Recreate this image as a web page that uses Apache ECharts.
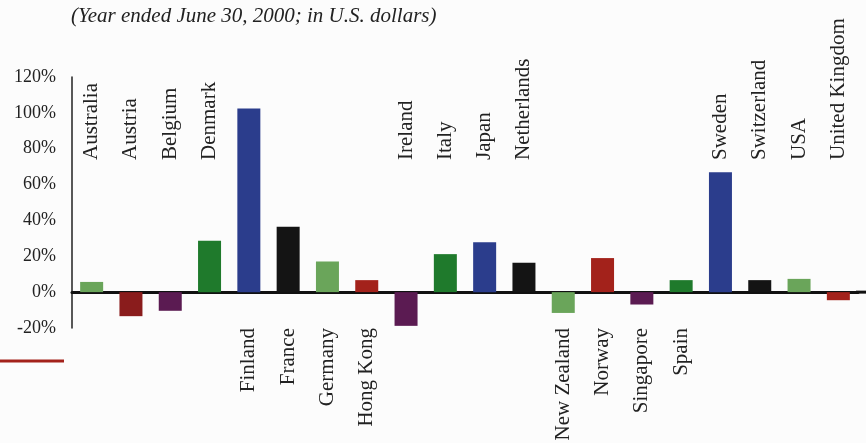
<!DOCTYPE html>
<html>
<head>
<meta charset="utf-8">
<script src="https://cdn.jsdelivr.net/npm/echarts@6/dist/echarts.min.js"></script>
<style>
html,body{margin:0;padding:0;background:#fcfcfc;}
#c{width:866px;height:443px;}
</style>
</head>
<body>
<div id="c"></div>
<script>
const countries = ['Australia','Austria','Belgium','Denmark','Finland','France','Germany','Hong Kong','Ireland','Italy','Japan','Netherlands','New Zealand','Norway','Singapore','Spain','Sweden','Switzerland','USA','United Kingdom'];
const returns = [5.7, -13.4, -10.4, 28.7, 102.5, 36.5, 17.1, 6.7, -18.8, 21.2, 27.8, 16.4, -11.6, 19, -6.9, 6.7, 66.9, 6.7, 7.4, -4.5];
const barColors = ['#6aa55a','#8a1c1c','#5b1b52','#1f7a2c','#2b3d8c','#141414','#6aa55a','#a3221b','#5b1b52','#1f7a2c','#2b3d8c','#141414','#6aa55a','#a3221b','#5b1b52','#1f7a2c','#2b3d8c','#141414','#6aa55a','#a3221b'];
const yTicks = {min: -20, max: 120, interval: 20};
const subtitle = '(Year ended June 30, 2000; in U.S. dollars)';

const serif = '"Liberation Serif", "DejaVu Serif", serif';
const isTop = i => Math.floor(i / 4) % 2 === 0;
const chart = echarts.init(document.getElementById('c'));
chart.setOption({
  backgroundColor: '#fcfcfc',
  animation: false,
  title: {
    text: subtitle, left: 66, top: 1,
    textStyle: {fontFamily: serif, fontStyle: 'italic', fontWeight: 'normal', fontSize: 21, color: '#222'}
  },
  grid: {left: 72, right: 8, top: 77, bottom: 115, containLabel: false, outerBoundsMode: 'none'},
  xAxis: [{
    type: 'category', data: countries, position: 'bottom',
    axisLine: {onZero: true, lineStyle: {color: '#111', width: 3}},
    axisTick: {show: false},
    axisLabel: {rotate: 90, margin: 0, interval: 0, fontFamily: serif, fontSize: 21, color: '#222',
      formatter: (v, i) => isTop(i) ? '' : v}
  }, {
    type: 'category', data: countries, position: 'bottom',
    axisLine: {show: false, onZero: false},
    axisTick: {show: false},
    axisLabel: {rotate: 90, align: 'left', margin: -168, interval: 0, fontFamily: serif, fontSize: 21, color: '#222',
      formatter: (v, i) => isTop(i) ? v : ''}
  }],
  yAxis: {
    type: 'value', min: yTicks.min, max: yTicks.max, interval: yTicks.interval,
    axisLine: {show: true, lineStyle: {color: '#222', width: 1.5}},
    axisTick: {show: false},
    splitLine: {show: false},
    axisLabel: {formatter: '{value}%', margin: 16, fontFamily: serif, fontSize: 18, color: '#222'}
  },
  series: [{
    type: 'bar', barWidth: 23, xAxisIndex: 0,
    data: returns.map((v, i) => ({value: v, itemStyle: {color: barColors[i]}})),
    z: 1
  }]
});
const zeroPx = chart.convertToPixel({yAxisIndex: 0}, 0);
chart.setOption({
  graphic: [
    {type: 'line', shape: {x1: 856, y1: zeroPx, x2: 866, y2: zeroPx}, style: {stroke: '#111', lineWidth: 3}, z: 10},
    {type: 'line', shape: {x1: 0, y1: 361, x2: 64, y2: 361}, style: {stroke: '#a3221b', lineWidth: 3}}
  ]
});
</script>
</body>
</html>
